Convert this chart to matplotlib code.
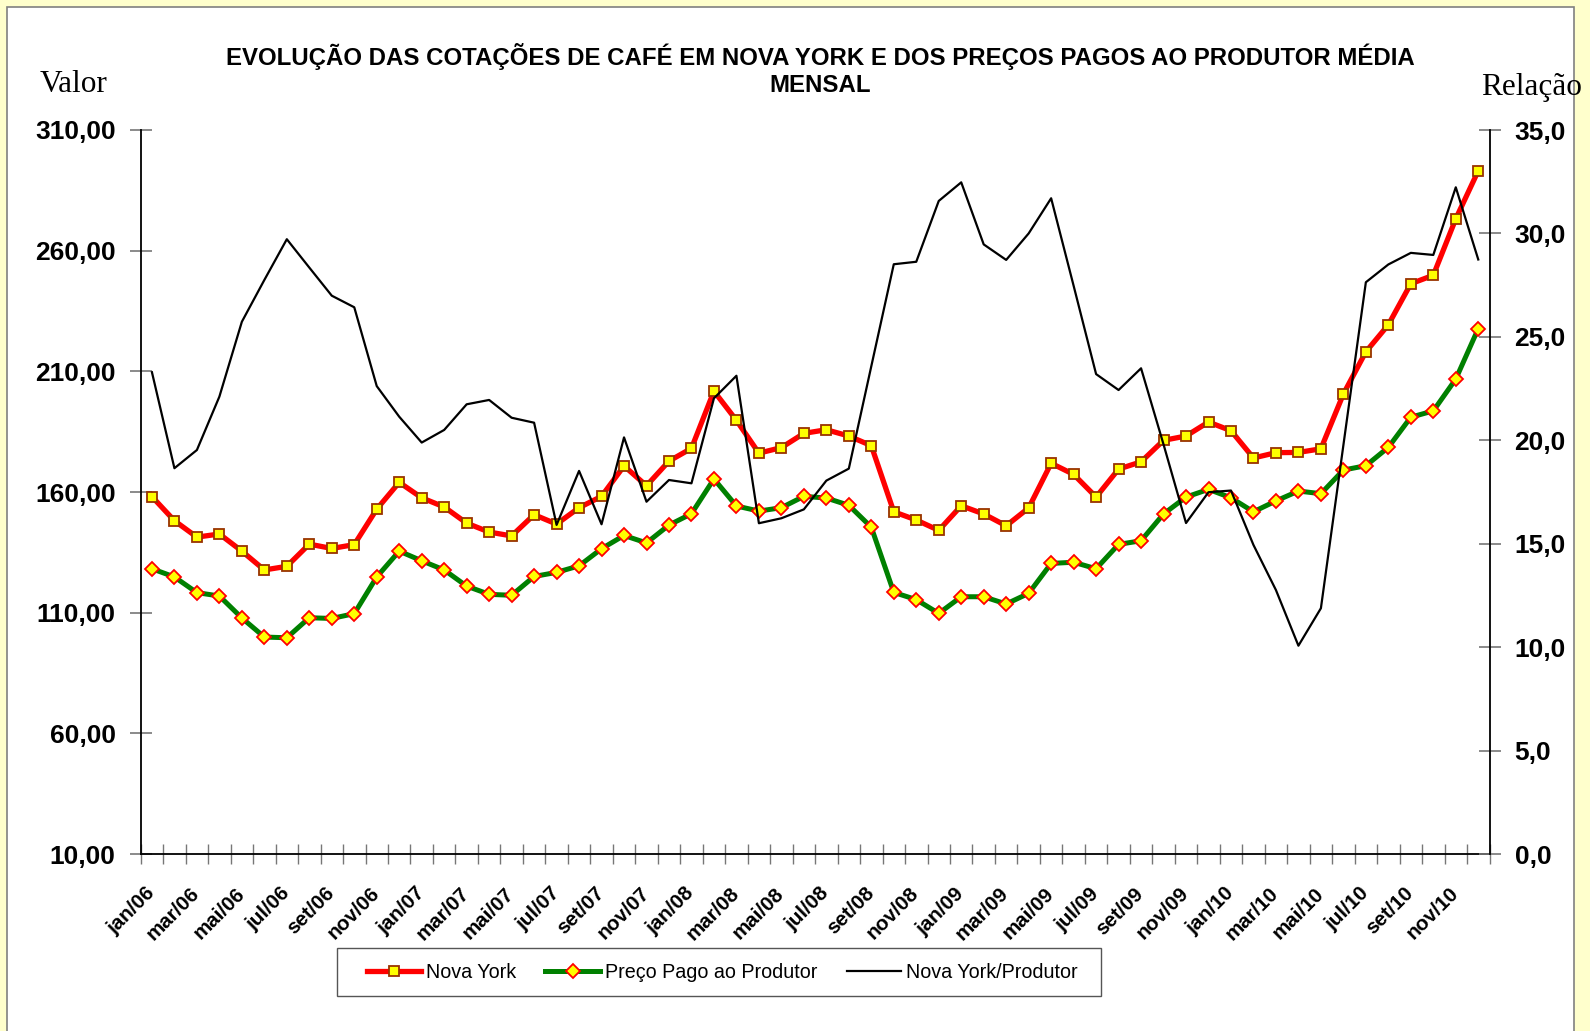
import numpy as np
import matplotlib
matplotlib.use("Agg")
import matplotlib.pyplot as plt
from matplotlib.patches import Rectangle
from matplotlib.transforms import ScaledTranslation

plt.rcParams['font.family'] = ['Liberation Sans', 'DejaVu Sans']

# ---- data -------------------------------------------------------------
meses = ['jan', 'fev', 'mar', 'abr', 'mai', 'jun', 'jul', 'ago', 'set', 'out', 'nov', 'dez']
anos = ['06', '07', '08', '09', '10']
categorias = [f"{m}/{a}" for a in anos for m in meses]

nova_york = [158.1, 148.1, 141.3, 142.6, 135.5, 127.7, 129.2, 138.4, 136.6, 138.2,
             152.9, 164.0, 157.6, 153.8, 147.1, 143.4, 141.8, 150.6, 146.7, 153.5,
             158.2, 170.8, 162.6, 172.8, 178.1, 201.8, 189.7, 176.1, 178.4, 184.3,
             185.8, 183.2, 179.2, 151.8, 148.4, 144.1, 154.3, 150.9, 146.0, 153.4,
             171.9, 167.3, 157.9, 169.5, 172.5, 181.4, 183.2, 189.0, 185.4, 174.1,
             176.3, 176.4, 177.9, 200.6, 218.1, 229.3, 246.3, 249.8, 273.2, 293.1]

produtor = [128.2, 124.8, 118.3, 116.9, 107.8, 99.9, 99.6, 107.9, 107.6, 109.6,
            124.8, 135.5, 131.5, 127.7, 121.0, 117.6, 117.2, 125.0, 126.7, 129.4,
            136.5, 142.0, 138.9, 146.3, 151.0, 165.4, 154.2, 152.1, 153.5, 158.2,
            157.5, 154.5, 145.4, 118.4, 115.4, 109.7, 116.6, 116.6, 113.6, 118.0,
            130.4, 130.9, 128.2, 138.3, 139.8, 150.9, 157.9, 161.1, 157.6, 151.8,
            156.3, 160.4, 159.3, 169.1, 170.9, 178.5, 191.0, 193.6, 206.8, 227.7]

relacao = [23.29, 18.65, 19.53, 22.11, 25.73, 27.75, 29.72, 28.35, 26.99, 26.43,
           22.62, 21.14, 19.89, 20.50, 21.74, 21.95, 21.09, 20.85, 15.91, 18.52,
           15.94, 20.14, 17.03, 18.08, 17.92, 22.03, 23.12, 15.99, 16.23, 16.66,
           18.05, 18.63, 23.58, 28.51, 28.63, 31.57, 32.47, 29.47, 28.72, 30.00,
           31.70, 27.47, 23.20, 22.43, 23.48, 19.80, 16.00, 17.49, 17.57, 14.94,
           12.76, 10.07, 11.88, 19.76, 27.64, 28.50, 29.06, 28.96, 32.23, 28.74]

valor_ticks = [10, 60, 110, 160, 210, 260, 310]
relacao_ticks = [0, 5, 10, 15, 20, 25, 30, 35]

titulo_1 = "EVOLUÇÃO DAS COTAÇÕES DE CAFÉ EM NOVA YORK E DOS PREÇOS PAGOS AO PRODUTOR MÉDIA"
titulo_2 = "MENSAL"

# ---- figure -----------------------------------------------------------
W, H = 1590, 1031
fig = plt.figure(figsize=(W / 100, H / 100), dpi=100)
fig.patch.set_facecolor('#FFFFCC')
panel = Rectangle((7 / W, -0.02), (1574 - 7) / W, 1.02 - 7 / H,
                  transform=fig.transFigure, facecolor='white',
                  edgecolor='#808080', lw=1.2, zorder=-5)
fig.patches.append(panel)

ax = fig.add_axes([140.7 / W, 177 / H, (1489.5 - 140.7) / W, 724 / H])
ax.set_facecolor('white')
x = np.arange(len(categorias))

l1, = ax.plot(x, nova_york, color='#FF0000', lw=3.8, marker='s', ms=7.5,
              mfc='#FFFF00', mec='#993300', mew=1.3, label='Nova York', zorder=3)
l2, = ax.plot(x, produtor, color='#008000', lw=3.6, marker='D', ms=7.5,
              mfc='#FFFF00', mec='#FF0000', mew=1.3, label='Preço Pago ao Produtor', zorder=3)

ax2 = ax.twinx()
l3, = ax2.plot(x, relacao, color='black', lw=1.6, label='Nova York/Produtor')

ax.set_xlim(-0.5, len(categorias) - 0.5)
ax.set_ylim(10, 310)
ax2.set_ylim(0, 35)

ax.set_yticks(valor_ticks)
ax.set_yticklabels([f"{v:.2f}".replace('.', ',') for v in valor_ticks],
                   fontsize=19, fontweight='bold')
ax2.set_yticks(relacao_ticks)
ax2.set_yticklabels([f"{v:.1f}".replace('.', ',') for v in relacao_ticks],
                    fontsize=19, fontweight='bold')

ax.set_xticks(x[::2])
ax.set_xticklabels(categorias[::2], rotation=45, ha='right', va='top',
                   rotation_mode='anchor', fontsize=14.8, fontweight='bold')
ax.set_xticks(np.arange(-0.5, len(categorias), 1), minor=True)
ax.tick_params(axis='x', which='major', length=0, pad=20)
ax.tick_params(axis='x', which='minor', direction='inout', length=14,
               width=1, color='#777777')
ax.tick_params(axis='y', direction='inout', length=16, width=1.2,
               color='#777777', pad=10)
ax2.tick_params(axis='y', direction='inout', length=16, width=1.2,
                color='#777777', pad=10)

# shift the rotated month labels so their right end sits under the point
shift = ScaledTranslation(-7 / 100, -2 / 100, fig.dpi_scale_trans)
for lab in ax.get_xticklabels():
    lab.set_transform(lab.get_transform() + shift)

for a in (ax, ax2):
    a.spines['top'].set_visible(False)
    for s in ('left', 'right', 'bottom'):
        a.spines[s].set_linewidth(1.3)
        a.spines[s].set_color('black')
ax.spines['right'].set_visible(False)
ax2.spines['left'].set_visible(False)
ax2.spines['bottom'].set_visible(False)

fig.text(820 / W, 1 - 57 / H, titulo_1, ha='center', va='center',
         fontsize=17.3, fontweight='bold')
fig.text(820 / W, 1 - 85 / H, titulo_2, ha='center', va='center',
         fontsize=17.3, fontweight='bold')
fig.text(74 / W, 1 - 85 / H, 'Valor', ha='center', va='center',
         fontsize=22.5, family='Liberation Serif')
fig.text(1531 / W, 1 - 87 / H, 'Relação', ha='center', va='center',
         fontsize=22.5, family='Liberation Serif')

# legend: frame drawn separately to match the wide horizontal padding
leg_box = Rectangle((337 / W, 1 - 996 / H), (1101 - 337) / W, 48 / H,
                    transform=fig.transFigure, facecolor='white',
                    edgecolor='#555555', lw=1.0, zorder=4)
fig.patches.append(leg_box)
leg = fig.legend(handles=[l1, l2, l3], loc='center',
                 bbox_to_anchor=(722 / W, 1 - 972 / H), ncol=3, fontsize=14.2,
                 frameon=False, handlelength=2.75, handletextpad=0.25,
                 columnspacing=1.5, borderpad=0.5)
leg.set_zorder(5)

fig.savefig('out.png', dpi=100, facecolor=fig.get_facecolor())
